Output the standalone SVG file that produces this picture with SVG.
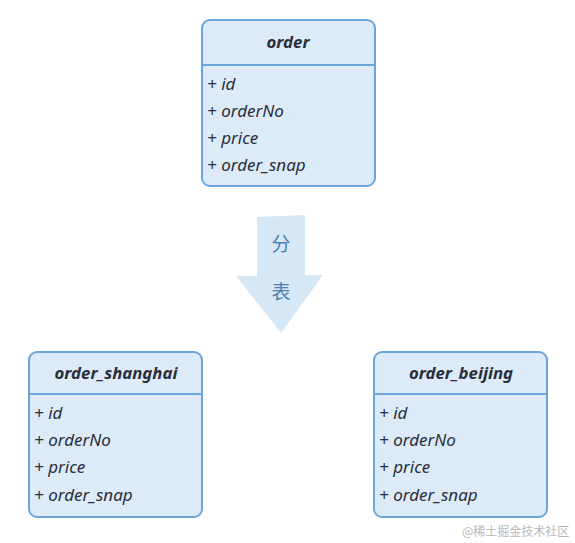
<svg xmlns="http://www.w3.org/2000/svg" width="575" height="543" viewBox="0 0 575 543">
<style>
.box{fill:#ddebf8;stroke:#6aa6dc;stroke-width:2}
.sep{stroke:#6aa6dc;stroke-width:2;fill:none}
.title{font-family:"Noto Sans",sans-serif;font-style:italic;font-weight:bold;font-size:16.8px;fill:#2a2f3d;text-anchor:middle}
.field{font-family:"Noto Sans",sans-serif;font-style:italic;font-size:17px;fill:#2a2f3d}
.cn{font-family:"Noto Sans CJK SC",sans-serif;font-size:19px;fill:#4a7fb0;text-anchor:middle}
.wm{font-family:"Noto Sans CJK SC",sans-serif;font-size:12px;fill:#b8b8b8}
</style>
<rect width="575" height="543" fill="#ffffff"/>
<g id="connectors">
<polygon points="257,217 305,215 305,275 323,275 281,333 236,276 257,276" fill="#d6e7f6"/>
<text class="cn" x="281" y="251">分</text>
<text class="cn" x="281" y="299">表</text>
</g>
<g id="order">
<rect class="box" x="202" y="20" width="173" height="166" rx="8"/>
<line class="sep" x1="202" y1="65" x2="375" y2="65"/>
<text class="title" x="288" y="48">order</text>
<text class="field" x="207" y="90">+ id</text>
<text class="field" x="207" y="117">+ orderNo</text>
<text class="field" x="207" y="144">+ price</text>
<text class="field" x="207" y="171">+ order_snap</text>
</g>
<g id="order_shanghai">
<rect class="box" x="29" y="352" width="173" height="165" rx="8"/>
<line class="sep" x1="29" y1="394" x2="202" y2="394"/>
<text class="title" x="116" y="379">order_shanghai</text>
<text class="field" x="34" y="419">+ id</text>
<text class="field" x="34" y="446">+ orderNo</text>
<text class="field" x="34" y="473">+ price</text>
<text class="field" x="34" y="501">+ order_snap</text>
</g>
<g id="order_beijing">
<rect class="box" x="374" y="352" width="173" height="165" rx="8"/>
<line class="sep" x1="374" y1="394" x2="547" y2="394"/>
<text class="title" x="461" y="379">order_beijing</text>
<text class="field" x="379" y="419">+ id</text>
<text class="field" x="379" y="446">+ orderNo</text>
<text class="field" x="379" y="473">+ price</text>
<text class="field" x="379" y="501">+ order_snap</text>
</g>
<text class="wm" x="462" y="536">@稀土掘金技术社区</text>
</svg>
